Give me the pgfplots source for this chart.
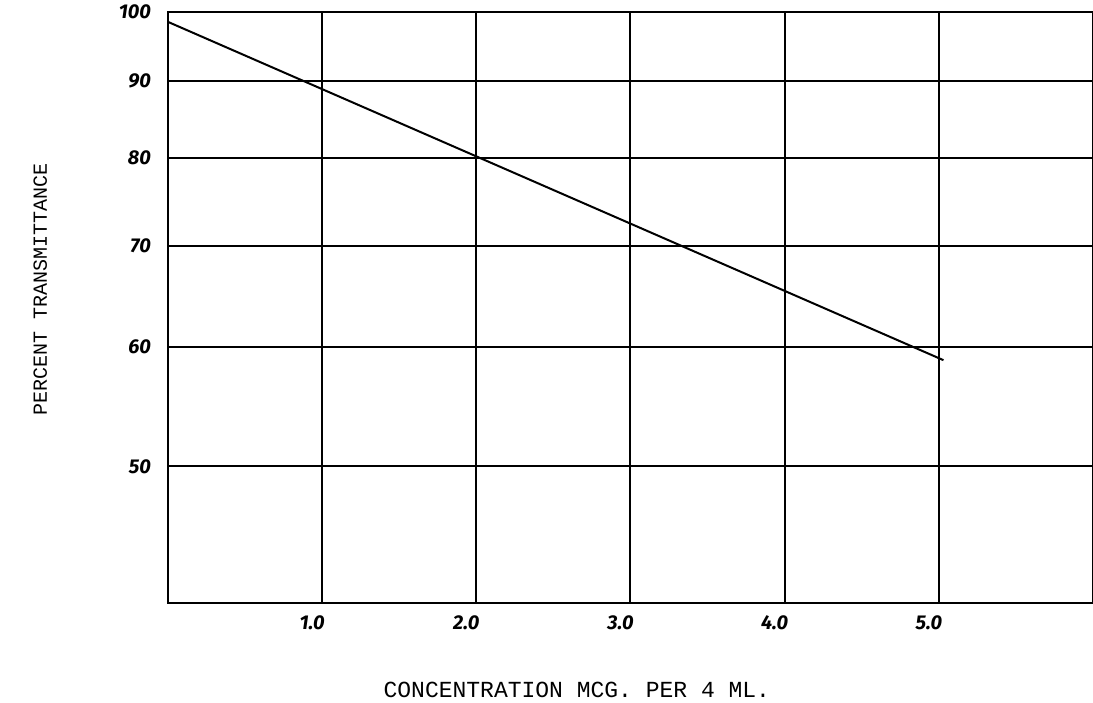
\documentclass[border=0pt]{standalone}
\usepackage{fontspec}
\usepackage{pgfplots}
\pgfplotsset{compat=1.18}
\newfontfamily\hand{Fira Sans}
\newfontfamily\typew{Liberation Mono}
\begin{document}
\begin{tikzpicture}
\begin{axis}[
  scale only axis,
  width=462.5pt, height=295.5pt,
  xmin=0, xmax=6,
  ymode=log, ymin=40.6, ymax=100,
  xtick={1,2,3,4,5},
  xticklabels={1.0,2.0,3.0,4.0,5.0},
  ytick={50,60,70,80,90,100},
  yticklabels={50,60,70,80,90,100},
  minor ytick={},
  major tick length=0pt,
  grid=major,
  major grid style={black, line width=1pt},
  axis line style={black, line width=1.2pt},
  xticklabel style={font=\hand\bfseries\itshape, xshift=-5pt, yshift=-3pt},
  yticklabel style={font=\hand\bfseries\itshape, xshift=-5pt},
  xlabel={CONCENTRATION MCG. PER 4 ML.},
  ylabel={PERCENT TRANSMITTANCE},
  xlabel style={font=\typew\fontsize{11.5}{13}\selectfont, at={(axis description cs:0.442,-0.147)}, anchor=center},
  ylabel style={font=\typew\fontsize{10}{12}\selectfont, at={(axis description cs:-0.138,0.53)}, anchor=center},
  clip=false,
]
\addplot[black, line width=1pt] coordinates {(0,98.5) (5.03,58.8)};
\end{axis}
\pgfresetboundingbox
\path (-84pt,-49.5pt) rectangle (462.5pt,301.5pt);
\end{tikzpicture}
\end{document}
